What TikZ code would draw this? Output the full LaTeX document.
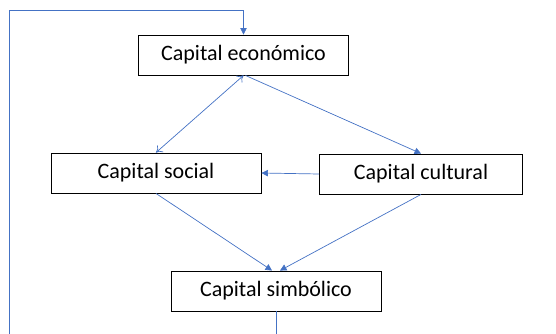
\documentclass[tikz,border=0pt]{standalone}
\usepackage{fontspec}
\setmainfont{Carlito}
\usetikzlibrary{arrows.meta}
\definecolor{linkblue}{RGB}{68,114,196}

\begin{document}
\begin{tikzpicture}[x=1pt,y=1pt,
  box/.style={draw=black,line width=0.9pt,fill=white,minimum height=40pt,
    inner sep=0pt,font=\fontsize{22}{26}\selectfont},
  link/.style={draw=linkblue,line width=0.7pt},
  tip/.style={-{Triangle[length=6.5pt,width=6.5pt]}}]
\def\boxW{210} % box width
\useasboundingbox (0,0) rectangle (556,333);
\clip (0,0) rectangle (556,333);
\node[box,minimum width=\boxW] (econ) at (243.5,278) {Capital económico};
\node[box,minimum width=\boxW] (social) at (156,160) {Capital social};
\node[box,minimum width=203] (cult) at (421,159) {Capital cultural};
\node[box,minimum width=\boxW] (simb) at (276,42) {Capital simbólico};
\coordinate (loopL) at (9,322.5);
\draw[link,{To[length=6pt,width=9pt]}-{To[length=6pt,width=9pt]}] (econ.south) -- (social.north);
\draw[link,tip] ([xshift=2pt]econ.south) -- (cult.north);
\draw[link,tip] (cult.west) -- (social.east);
\draw[link,tip] (social.south) -- ([xshift=-4pt]simb.north);
\draw[link,tip] (cult.south) -- ([xshift=4pt]simb.north);
\draw[link,tip] (simb.south) -- ++(0,-40) -| (loopL) -| (econ.north);
\end{tikzpicture}
\end{document}
